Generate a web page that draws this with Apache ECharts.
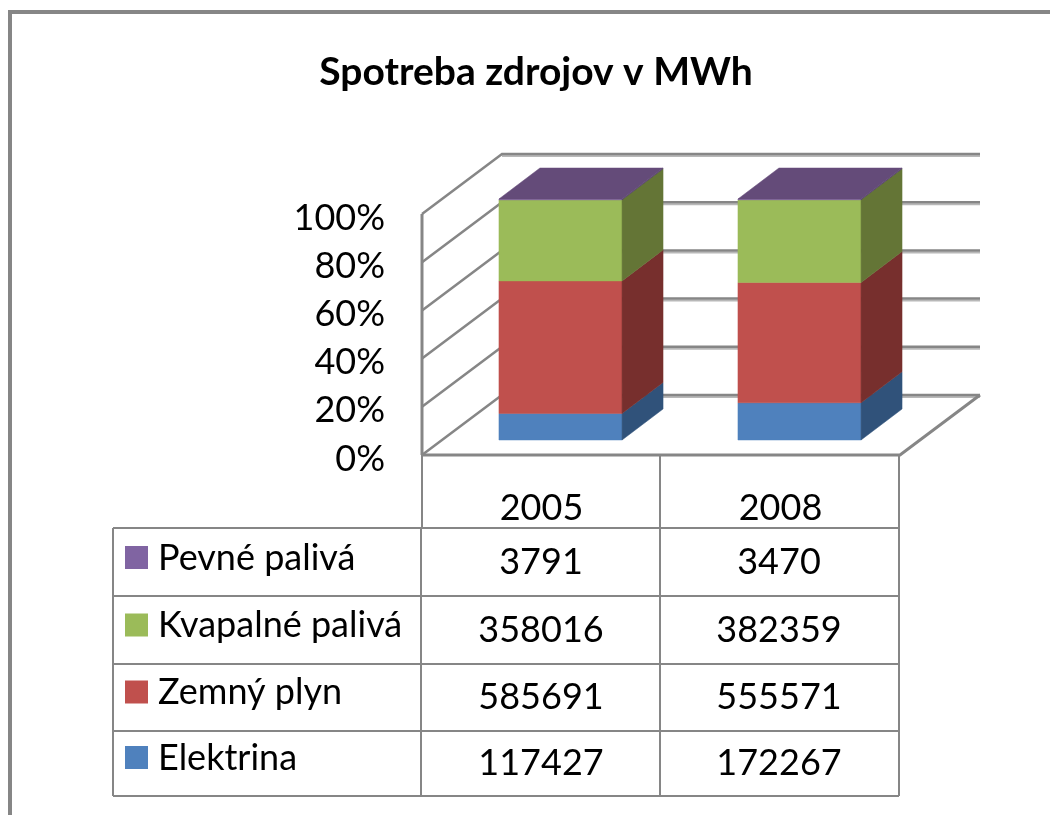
<!DOCTYPE html>
<html>
<head>
<meta charset="utf-8">
<title>Spotreba zdrojov v MWh</title>
<style>
  html, body { margin: 0; padding: 0; background: #fff; }
  #chart { width: 1050px; height: 815px; }
</style>
<script src="https://cdn.jsdelivr.net/npm/echarts@6/dist/echarts.min.js"></script>
</head>
<body>
<div id="chart"></div>
<script>
let titleText = 'Spotreba zdrojov v MWh'
let years = ['2005', '2008']
let seriesNames = ['Elektrina', 'Zemný plyn', 'Kvapalné palivá', 'Pevné palivá']
let elektrina = [117427, 172267]
let zemnyPlyn = [585691, 555571]
let kvapalnePaliva = [358016, 382359]
let pevnePaliva = [3791, 3470]
let percentTicks = [0, 20, 40, 60, 80, 100]

let frontColors = ['#4f81bd', '#c0504d', '#9bbb59', '#8064a2']
let sideColors = ['#30527a', '#772f2d', '#647536', '#4f3d66']
let topColor = '#644b79'
let lineColor = '#868686'
let shadowColor = '#b8b8b8'
let font = 'Lato, "Open Sans", sans-serif'
let textSize = 36

// pohlad do hlbky: posun zadnej steny a hlbka stlpca
let wallDx = 80
let wallDy = -60
let barFrontDx = 19
let barFrontDy = -15
let barBackDx = 60
let barBackDy = -46
let barShare = 0.515

let values = [elektrina, zemnyPlyn, kvapalnePaliva, pevnePaliva]
let totals = years.map((y, i) => values.reduce((sum, list) => sum + list[i], 0))

/**
 * Pripravi useky 100 % stlpca pre jednu radu
 *
 * @param {number} index poradie rady
 * @returns {Array} riadky [rok, od, do]
 */
function stackRows (index) {
  return years.map((y, i) => {
    let before = 0
    for (let k = 0; k < index; k++) {
      before += values[k][i]
    }
    let start = before / totals[i] * 100
    let end = (before + values[index][i]) / totals[i] * 100
    return [i, start, end]
  })
}

function poly (points, fill) {
  return {
    type: 'polygon',
    shape: {points},
    style: {fill, stroke: fill, lineWidth: 0.5},
    silent: true
  }
}

function polyline (points, color, width) {
  return {
    type: 'polyline',
    shape: {points},
    style: {fill: null, stroke: color, lineWidth: width},
    silent: true
  }
}

function renderBar (index, params, api) {
  let x = api.coord([api.value(0), 0])[0]
  let low = api.coord([api.value(0), api.value(1)])[1]
  let high = api.coord([api.value(0), api.value(2)])[1]
  let half = api.size([1, 0])[0] * barShare / 2
  let left = x - half + barFrontDx
  let right = x + half + barFrontDx
  let yLow = low + barFrontDy
  let yHigh = high + barFrontDy
  let depthX = barBackDx - barFrontDx
  let depthY = barBackDy - barFrontDy
  let children = [
    poly([[left, yLow], [right, yLow], [right, yHigh], [left, yHigh]], frontColors[index]),
    poly([[right, yLow], [right + depthX, yLow + depthY], [right + depthX, yHigh + depthY], [right, yHigh]], sideColors[index])
  ]
  if (index === values.length - 1) {
    children.push(poly([[left, yHigh], [right, yHigh], [right + depthX, yHigh + depthY], [left + depthX, yHigh + depthY]], topColor))
  }
  return {type: 'group', children}
}

function renderWall (params, api) {
  let box = params.coordSys
  let y = api.coord([0, api.value(0)])[1]
  let x0 = box.x
  let x1 = box.x + box.width
  let children = [
    polyline([[x0 + wallDx, y + wallDy + 2], [x1 + wallDx, y + wallDy + 2]], shadowColor, 2),
    polyline([[x0, y], [x0 + wallDx, y + wallDy], [x1 + wallDx, y + wallDy]], lineColor, 2.5)
  ]
  if (api.value(0) === percentTicks[0]) {
    children.push(polyline([[x0, y], [x1, y], [x1 + wallDx, y + wallDy]], lineColor, 3))
    children.push(polyline([[x0, box.y], [x0, y]], lineColor, 3))
  }
  return {type: 'group', children}
}

// tabulka pod grafom
let tableLeft = 113
let tableNameRight = 421
let tableRight = 899
let tableHead = 455
let rowLines = [528, 596, 664, 731, 796]
let colLines = [660, 899]
let colCenters = [541, 779]
let rowOrder = [3, 2, 1, 0]

let graphics = []

function addLine (x1, y1, x2, y2, width) {
  graphics.push({
    type: 'line',
    shape: {x1, y1, x2, y2},
    style: {stroke: lineColor, lineWidth: width},
    silent: true
  })
}

// vonkajsi ram
addLine(10, 12, 1050, 12, 4)
addLine(10, 10, 10, 815, 4)

rowLines.forEach(y => addLine(tableLeft, y, tableRight, y, 2))
addLine(tableLeft, rowLines[0], tableLeft, rowLines[4], 2)
addLine(tableNameRight, rowLines[0], tableNameRight, rowLines[4], 2)
addLine(422, tableHead, 422, rowLines[0], 2)
colLines.forEach(x => addLine(x, tableHead, x, rowLines[4], 2))

rowOrder.forEach((seriesIndex, row) => {
  let mid = (rowLines[row] + rowLines[row + 1]) / 2
  graphics.push({
    type: 'rect',
    shape: {x: 125, y: mid - 16 - row * 0.5, width: 23, height: 23},
    style: {fill: frontColors[seriesIndex]},
    silent: true
  })
  graphics.push({
    type: 'text',
    style: {
      x: 158,
      y: mid - 4 - row * 0.5,
      text: seriesNames[seriesIndex],
      font: textSize + 'px ' + font,
      fill: '#000',
      verticalAlign: 'middle'
    },
    silent: true
  })
  colCenters.forEach((cx, col) => {
    graphics.push({
      type: 'text',
      style: {
        x: cx,
        y: mid,
        text: String(values[seriesIndex][col]),
        font: textSize + 'px ' + font,
        fill: '#000',
        align: 'center',
        verticalAlign: 'middle'
      },
      silent: true
    })
  })
})

let series = [{
  type: 'custom',
  coordinateSystem: 'cartesian2d',
  renderItem: renderWall,
  data: percentTicks.map(t => [t]),
  encode: {y: 0},
  silent: true,
  z: 1
}]

seriesNames.forEach((name, index) => {
  series.push({
    name,
    type: 'custom',
    coordinateSystem: 'cartesian2d',
    renderItem: (params, api) => renderBar(index, params, api),
    data: stackRows(index),
    encode: {x: 0, y: [1, 2]},
    silent: true,
    z: 2 + index
  })
})

let chart = echarts.init(document.getElementById('chart'), null, {renderer: 'canvas'})
chart.setOption({
  animation: false,
  backgroundColor: '#fff',
  title: {
    text: titleText,
    left: 531,
    top: 48,
    textAlign: 'center',
    textStyle: {fontFamily: font, fontSize: 39, fontWeight: 'bold', color: '#000'}
  },
  grid: {left: 422, top: 214, width: 478, height: 241},
  xAxis: {
    type: 'category',
    data: years,
    axisLine: {show: false},
    axisTick: {show: false},
    splitLine: {show: false},
    axisLabel: {fontFamily: font, fontSize: textSize, color: '#000', margin: 35}
  },
  yAxis: {
    type: 'value',
    min: 0,
    max: 100,
    interval: 20,
    axisLine: {show: false},
    axisTick: {show: false},
    splitLine: {show: false},
    axisLabel: {
      color: '#000',
      margin: 37,
      formatter: '{tick|{value}%}',
      rich: {
        tick: {fontFamily: font, fontSize: textSize, color: '#000', padding: [8, 0, 0, 0]}
      }
    }
  },
  series,
  graphic: graphics
})
</script>
</body>
</html>
